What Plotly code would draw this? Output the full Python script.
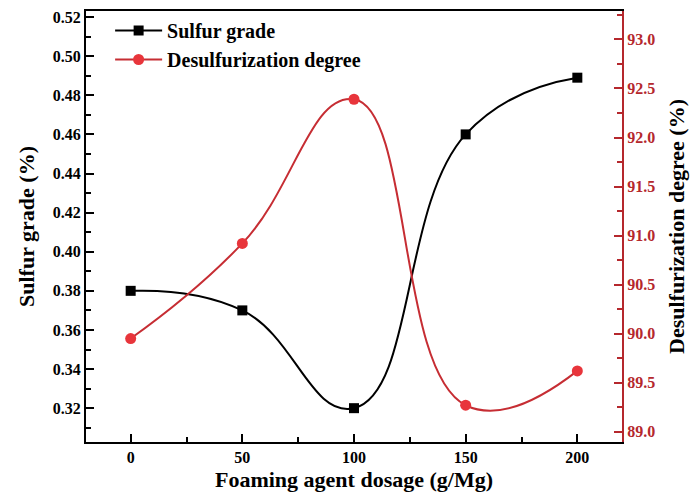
import plotly.graph_objects as go

dosage = [0, 50, 100, 150, 200]
sulfur_grade = [0.38, 0.37, 0.32, 0.46, 0.489]
desulfurization = [89.95, 90.92, 92.39, 89.27, 89.62]

FONT = "Liberation Serif"
RED_LINE = "#c62d33"
RED_MARK = "#e8353b"
RED_AXIS = "#b5282d"

fig = go.Figure()
fig.add_trace(go.Scatter(
    x=dosage, y=sulfur_grade, name="<b>Sulfur grade</b>",
    mode="lines+markers", line=dict(color="black", width=2, shape="spline", smoothing=1.3),
    marker=dict(symbol="square", size=10, color="black"), yaxis="y"))
fig.add_trace(go.Scatter(
    x=dosage, y=desulfurization, name="<b>Desulfurization degree</b>",
    mode="lines+markers", line=dict(color=RED_LINE, width=2, shape="spline", smoothing=1.3),
    marker=dict(symbol="circle", size=11, color=RED_MARK), yaxis="y2"))

fig.update_layout(
    width=694, height=498,
    margin=dict(l=86, r=71, t=9, b=56),
    plot_bgcolor="white", paper_bgcolor="white",
    font=dict(family=FONT, size=16, color="black"),
    showlegend=True,
    legend=dict(x=0.045, y=1.0, xanchor="left", yanchor="top",
                bgcolor="rgba(0,0,0,0)", font=dict(size=20, family=FONT),
                tracegroupgap=0, itemwidth=47),
    xaxis=dict(
        range=[-20, 220], tickvals=[0, 50, 100, 150, 200],
        ticktext=["<b>0</b>", "<b>50</b>", "<b>100</b>", "<b>150</b>", "<b>200</b>"],
        ticks="inside", ticklen=8, tickwidth=1.5, tickcolor="black",
        minor=dict(ticks="inside", dtick=25, tick0=0, ticklen=5, tickwidth=1.5, tickcolor="black"),
        showline=True, linecolor="black", linewidth=2, mirror=True,
        showgrid=False, zeroline=False,
        title=dict(text="<b>Foaming agent dosage (g/Mg)</b>", font=dict(size=22, family=FONT), standoff=6),
        tickfont=dict(size=16, family=FONT),
    ),
    yaxis=dict(
        range=[0.3027, 0.5231],
        tickvals=[0.32, 0.34, 0.36, 0.38, 0.40, 0.42, 0.44, 0.46, 0.48, 0.50, 0.52],
        ticktext=["<b>%.2f</b>" % v for v in [0.32, 0.34, 0.36, 0.38, 0.40, 0.42, 0.44, 0.46, 0.48, 0.50, 0.52]],
        ticks="inside", ticklen=8, tickwidth=1.5, tickcolor="black",
        minor=dict(ticks="inside", dtick=0.01, tick0=0.31, ticklen=5, tickwidth=1.5, tickcolor="black"),
        showline=True, linecolor="black", linewidth=2,
        showgrid=False, zeroline=False,
        title=dict(text="<b>Sulfur grade (%)</b>", font=dict(size=22, family=FONT), standoff=12),
        tickfont=dict(size=16, family=FONT),
    ),
    yaxis2=dict(
        overlaying="y", side="right", anchor="x",
        range=[88.895, 93.29],
        tickvals=[89.0, 89.5, 90.0, 90.5, 91.0, 91.5, 92.0, 92.5, 93.0],
        ticktext=["<b>%.1f</b>" % v for v in [89.0, 89.5, 90.0, 90.5, 91.0, 91.5, 92.0, 92.5, 93.0]],
        ticks="inside", ticklen=8, tickwidth=1.5, tickcolor=RED_AXIS,
        minor=dict(ticks="inside", dtick=0.25, tick0=88.75, ticklen=5, tickwidth=1.5, tickcolor=RED_AXIS),
        showline=True, linecolor=RED_AXIS, linewidth=2,
        showgrid=False, zeroline=False,
        tickfont=dict(size=16, family=FONT, color=RED_AXIS),
        title=dict(text="<b>Desulfurization degree (%)</b>", font=dict(size=22, family=FONT, color="black"), standoff=14),
    ),
)

fig.write_html("out.html")
